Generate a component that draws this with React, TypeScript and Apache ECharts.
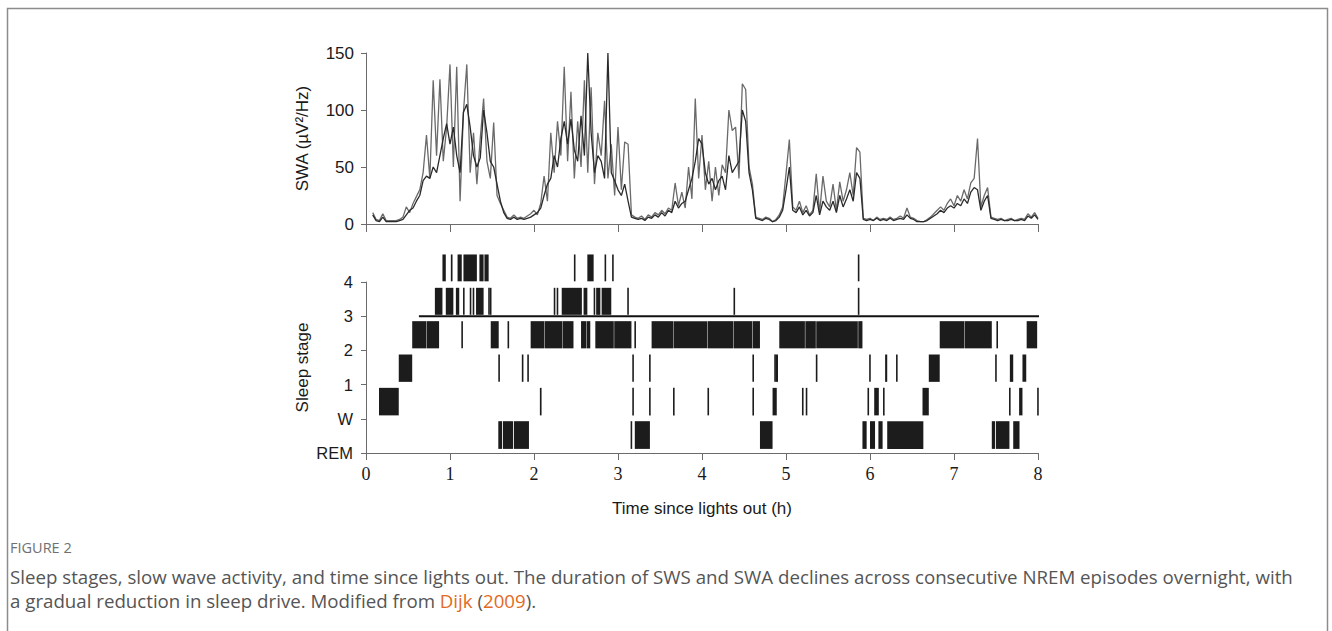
import React, { useEffect, useRef } from "react";
import * as echarts from "echarts";

// ---- SWA traces (µV²/Hz), one value every STEP hours from t = 0 ----
const STEP = 0.04;
const swaGray = [
  null, null, 10, 4, 3, 9, 3, 3, 3, 3,
  4, 6, 15, 10, 18, 24, 30, 45, 78, 40,
  126, 60, 127, 55, 85, 140, 50, 138, 20, 98,
  140, 45, 80, 35, 75, 110, 55, 40, 89, 25,
  18, 12, 6, 5, 8, 5, 6, 5, 7, 9,
  12, 8, 18, 42, 20, 80, 45, 90, 60, 138,
  55, 116, 40, 90, 50, 126, 45, 120, 35, 80,
  60, 108, 40, 70, 25, 85, 30, 72, 70, 8,
  6, 5, 7, 4, 8, 6, 10, 8, 12, 9,
  14, 12, 36, 16, 28, 14, 50, 22, 110, 40,
  78, 30, 55, 20, 50, 25, 52, 45, 100, 82,
  85, 40, 123, 118, 50, 35, 6, 5, 4, 6,
  5, 2, 4, 8, 15, 44, 74, 15, 12, 20,
  10, 16, 8, 12, 44, 10, 42, 20, 15, 35,
  12, 37, 20, 30, 45, 25, 67, 63, 5, 4,
  5, 3, 6, 4, 5, 4, 6, 4, 5, 7,
  5, 14, 6, 5, 3, 2, 2, 4, 6, 9,
  12, 15, 12, 18, 22, 16, 25, 20, 30, 22,
  36, 40, 75, 15, 25, 32, 6, 5, 4, 5,
  3, 4, 5, 3, 4, 5, 4, 9, 6, 10,
  5,
];
const swaDark = [
  null, null, 8, 3, 2, 6, 2, 2, 2, 2,
  3, 4, 8, 12, 14, 20, 25, 38, 42, 40,
  50, 45, 60, 75, 88, 70, 85, 60, 45, 98,
  105, 85, 60, 50, 58, 100, 80, 55, 50, 35,
  20, 10, 5, 4, 6, 4, 5, 4, 5, 6,
  8, 10, 14, 25, 35, 40, 60, 50, 75, 90,
  70, 92, 65, 55, 95, 60, 150, 80, 45, 60,
  55, 40, 150, 45, 38, 30, 25, 35, 20, 6,
  5, 4, 5, 3, 6, 5, 8, 6, 10, 7,
  12, 10, 20, 14, 18, 20, 30, 40, 55, 75,
  70, 45, 35, 40, 30, 38, 42, 30, 60, 45,
  50, 55, 100, 90, 45, 30, 5, 4, 3, 5,
  4, 2, 3, 6, 12, 30, 50, 12, 10, 15,
  8, 12, 7, 10, 25, 8, 20, 15, 12, 20,
  10, 25, 15, 22, 30, 20, 45, 40, 4, 3,
  4, 3, 5, 3, 4, 3, 5, 3, 4, 5,
  4, 8, 5, 4, 2, 2, 2, 3, 5, 7,
  9, 12, 10, 14, 16, 14, 18, 16, 22, 18,
  28, 32, 30, 12, 20, 25, 5, 4, 3, 4,
  3, 3, 4, 3, 3, 4, 3, 7, 5, 8,
  4,
];

// ---- Hypnogram bouts [start h, end h] per stage ----
const stageLabels = ["REM", "W", "1", "2", "3", "4"];
const boutsREM = [[1.575, 1.62], [1.63, 1.75], [1.76, 1.94], [3.15, 3.165], [3.2, 3.38], [4.69, 4.84], [5.91, 5.96], [6.0, 6.06], [6.1, 6.15], [6.205, 6.635], [7.45, 7.49], [7.5, 7.66], [7.705, 7.78]];
const boutsW = [[0.155, 0.39], [2.07, 2.09], [3.17, 3.185], [3.37, 3.385], [3.655, 3.67], [4.065, 4.08], [4.6, 4.615], [4.84, 4.89], [5.19, 5.205], [5.235, 5.25], [5.97, 5.985], [6.05, 6.105], [6.155, 6.17], [6.625, 6.7], [7.655, 7.67], [7.775, 7.815], [7.99, 8.005]];
const bouts1 = [[0.39, 0.55], [1.575, 1.59], [1.855, 1.865], [1.92, 1.935], [3.17, 3.185], [3.37, 3.385], [4.6, 4.615], [4.86, 4.87], [4.875, 4.905], [5.355, 5.37], [5.99, 6.005], [6.18, 6.205], [6.31, 6.325], [6.7, 6.83], [7.49, 7.505], [7.665, 7.705], [7.815, 7.86]];
const bouts2 = [[0.55, 0.72], [0.725, 0.87], [1.135, 1.15], [1.485, 1.58], [1.685, 1.7], [1.96, 2.12], [2.125, 2.34], [2.345, 2.47], [2.56, 2.62], [2.625, 2.67], [2.73, 2.95], [2.955, 3.16], [3.195, 3.21], [3.4, 3.655], [3.66, 4.065], [4.07, 4.375], [4.38, 4.6], [4.605, 4.69], [4.92, 5.225], [5.23, 5.355], [5.36, 5.855], [5.86, 5.91], [6.83, 7.12], [7.125, 7.45], [7.505, 7.52], [7.865, 7.99]];
const bouts3 = [[0.82, 0.91], [0.95, 1.04], [1.07, 1.11], [1.155, 1.165], [1.235, 1.245], [1.27, 1.28], [1.31, 1.4], [1.455, 1.465], [1.475, 1.49], [2.235, 2.245], [2.27, 2.28], [2.33, 2.57], [2.59, 2.635], [2.71, 2.72], [2.74, 2.79], [2.805, 2.92], [3.11, 3.12], [4.375, 4.39], [5.855, 5.862]];
const bouts4 = [[0.91, 0.95], [1.01, 1.03], [1.09, 1.14], [1.16, 1.32], [1.35, 1.4], [1.41, 1.46], [2.475, 2.485], [2.635, 2.71], [2.84, 2.85], [2.93, 2.945], [5.855, 5.862]];
const boutsByStage = [boutsREM, boutsW, bouts1, bouts2, bouts3, bouts4];
// horizontal SWS threshold line at stage 3 level
const sws3Line = [0.63, 8.05];
const sws3Level = 4;

const hourMin = 0;
const hourMax = 8;

const captionLine1 =
  "Sleep stages, slow wave activity, and time since lights out. The duration of SWS and SWA declines across consecutive NREM episodes overnight, with";

const SANS = 'Arial, "Liberation Sans", Helvetica, sans-serif';
const SERIF = '"Times New Roman", "Liberation Serif", serif';
const CAP = '"Open Sans", "Noto Sans", sans-serif';

export default function App() {
  const ref = useRef<HTMLDivElement>(null);
  useEffect(() => {
    if (!ref.current) return;
    const chart = echarts.init(ref.current, null, { renderer: "svg" });
    const toPairs = (arr: (number | null)[]) =>
      arr.map((v, i) => [Number((i * STEP).toFixed(3)), v]);
    const hypData: number[][] = [];
    boutsByStage.forEach((bouts, stage) =>
      bouts.forEach((b) => hypData.push([b[0], b[1], stage]))
    );
    const axisLineStyle = { color: "#6b6b6b", width: 1 };
    chart.setOption({
      animation: false,
      backgroundColor: "#ffffff",
      grid: [
        { left: 366, top: 53, width: 672, height: 171 },
        { left: 366, top: 282, width: 672, height: 171 },
      ],
      xAxis: [
        {
          type: "value",
          gridIndex: 0,
          min: hourMin,
          max: hourMax,
          interval: 1,
          axisLine: { show: true, lineStyle: axisLineStyle },
          axisTick: { show: true, length: 8, lineStyle: axisLineStyle },
          axisLabel: { show: false },
          splitLine: { show: false },
        },
        {
          type: "value",
          gridIndex: 1,
          min: hourMin,
          max: hourMax,
          interval: 1,
          axisLine: { show: true, lineStyle: axisLineStyle },
          axisTick: { show: true, length: 7, lineStyle: axisLineStyle },
          axisLabel: { fontFamily: SERIF, fontSize: 18, color: "#1a1a1a", margin: 12 },
          splitLine: { show: false },
          name: "Time since lights out (h)",
          nameLocation: "middle",
          nameGap: 47,
          nameMoveOverlap: false,
          nameTextStyle: { fontFamily: SANS, fontSize: 17, color: "#1a1a1a" },
        },
      ],
      yAxis: [
        {
          type: "value",
          gridIndex: 0,
          min: 0,
          max: 150,
          interval: 50,
          axisLine: { show: true, lineStyle: axisLineStyle },
          axisTick: { show: true, length: 5, lineStyle: axisLineStyle },
          axisLabel: { fontFamily: SANS, fontSize: 17, color: "#1a1a1a", margin: 12 },
          splitLine: { show: false },
          name: "SWA (µV²/Hz)",
          nameLocation: "middle",
          nameGap: 55,
          nameMoveOverlap: false,
          nameTextStyle: { fontFamily: SANS, fontSize: 17, color: "#1a1a1a" },
        },
        {
          type: "value",
          gridIndex: 1,
          min: 0,
          max: 5,
          interval: 1,
          axisLine: { show: true, lineStyle: axisLineStyle },
          axisTick: { show: true, length: 5, lineStyle: axisLineStyle },
          axisLabel: {
            fontFamily: SANS,
            fontSize: 16.5,
            color: "#1a1a1a",
            margin: 13,
            formatter: (v: number) => stageLabels[Math.round(v)] ?? "",
          },
          splitLine: { show: false },
          name: "Sleep stage",
          nameLocation: "middle",
          nameGap: 55,
          nameMoveOverlap: false,
          nameTextStyle: { fontFamily: SANS, fontSize: 17, color: "#1a1a1a" },
        },
      ],
      series: [
        {
          type: "line",
          xAxisIndex: 0,
          yAxisIndex: 0,
          showSymbol: false,
          data: toPairs(swaGray),
          lineStyle: { color: "#6a6a6a", width: 1.3 },
          z: 2,
        },
        {
          type: "line",
          xAxisIndex: 0,
          yAxisIndex: 0,
          showSymbol: false,
          data: toPairs(swaDark),
          lineStyle: { color: "#2a2a2a", width: 1.3 },
          z: 3,
        },
        {
          type: "custom",
          xAxisIndex: 1,
          yAxisIndex: 1,
          clip: false,
          encode: { x: [0, 1], y: 2 },
          data: hypData,
          renderItem: (params: any, api: any) => {
            const s = api.value(0);
            const e = api.value(1);
            const st = api.value(2);
            const p0 = api.coord([s, st + 0.93 - 0.025 * st]);
            const p1 = api.coord([e, st + 0.12 - 0.02 * st]);
            return {
              type: "rect",
              shape: {
                x: p0[0],
                y: p0[1],
                width: Math.max(p1[0] - p0[0], 1.6),
                height: p1[1] - p0[1],
              },
              style: { fill: "#1c1c1c" },
            };
          },
        },
        {
          type: "line",
          xAxisIndex: 1,
          yAxisIndex: 1,
          clip: false,
          showSymbol: false,
          symbol: "none",
          data: [
            [sws3Line[0], sws3Level],
            [sws3Line[1], sws3Level],
          ],
          lineStyle: { color: "#111111", width: 2 },
          z: 4,
        },
      ],
      graphic: [
        {
          type: "rect",
          silent: true,
          shape: { x: 7.5, y: 8.5, width: 1320, height: 700 },
          style: { fill: "none", stroke: "#8c8c8c", lineWidth: 1.5 },
        },
        {
          type: "text",
          x: 10,
          y: 547,
          style: {
            text: "FIGURE 2",
            fontFamily: CAP,
            fontSize: 14.5,
            fill: "#707070",
            verticalAlign: "middle",
          },
        },
        {
          type: "text",
          x: 10,
          y: 576,
          style: {
            text: captionLine1,
            fontFamily: CAP,
            fontSize: 18.7,
            fill: "#555555",
            verticalAlign: "middle",
          },
        },
        {
          type: "text",
          x: 10,
          y: 600,
          style: {
            text: "{a|a gradual reduction in sleep drive. Modified from }{o|Dijk}{a| (}{o|2009}{a|).}",
            fontFamily: CAP,
            fontSize: 18.7,
            verticalAlign: "middle",
            rich: {
              a: { fill: "#555555", fontFamily: CAP, fontSize: 18.7 },
              o: { fill: "#e36a1e", fontFamily: CAP, fontSize: 18.7 },
            },
          },
        },
      ],
    });
    return () => chart.dispose();
  }, []);
  return (
    <div
      ref={ref}
      style={{ position: "fixed", left: 0, top: 0, width: 1332, height: 631, background: "#fff" }}
    />
  );
}
